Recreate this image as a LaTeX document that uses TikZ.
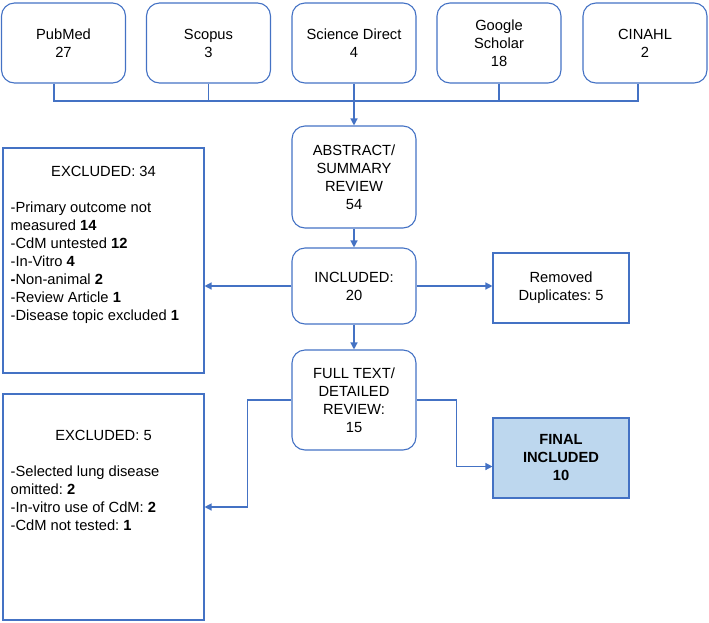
\documentclass[tikz,border=0pt]{standalone}
\usepackage{fontspec}
\setmainfont{Liberation Sans}
\usepackage{tikz}
\usetikzlibrary{arrows.meta, positioning}
\frenchspacing

\definecolor{boxblue}{HTML}{4472C4}
\definecolor{finalfill}{HTML}{BDD7EE}

\begin{document}
\begin{tikzpicture}[x=1pt, y=-1pt,
		every node/.style={font=\fontsize{14.7}{18}\selectfont, inner sep=0pt},
		roundbox/.style={draw=boxblue, line width=1.1pt, rounded corners=13pt, minimum width=124pt, align=center},
		plainbox/.style={draw=boxblue, line width=1.1pt, align=center},
		flowline/.style={draw=boxblue, line width=1.3pt},
		flowarrow/.style={flowline, -{Triangle[length=7pt, width=7pt]}}]
		
		\useasboundingbox (0,0) rectangle (709,622);
		
		% Databases searched (top row)
		\node[roundbox, minimum height=80pt] (pubmed) at (63.5,43) {PubMed\\27};
		\node[roundbox, minimum height=80pt] (scopus) at (208.5,43) {Scopus\\3};
		\node[roundbox, minimum height=80pt] (scidir) at (354,43) {Science Direct\\4};
		\node[roundbox, minimum height=80pt] (google) at (499,43) {Google\\Scholar\\18};
		\node[roundbox, minimum height=80pt] (cinahl) at (645,43) {CINAHL\\2};
		
		% Screening column
		\node[roundbox, minimum height=102pt] (abstract) at (354,177) {ABSTRACT/\\SUMMARY\\REVIEW\\54};
		\node[roundbox, minimum height=76pt] (included) at (354,286) {INCLUDED:\\20};
		\node[roundbox, minimum height=100pt] (fulltext) at (354,400) {FULL TEXT/\\DETAILED\\REVIEW:\\15};
		
		% Side boxes
		\node[plainbox, minimum width=136pt, minimum height=70pt] (removed) at (561,288) {Removed\\Duplicates: 5};
		\node[plainbox, fill=finalfill, minimum width=136pt, minimum height=80pt, font=\fontsize{14.7}{18}\selectfont\bfseries] (final) at (561,458) {FINAL\\INCLUDED\\10};
		
		% Exclusion boxes
		\node[plainbox, minimum width=201pt, minimum height=225pt] (excl1) at (103.5,260.5) {};
		\node[anchor=base] (excl1title) at ([yshift=-29pt]excl1.north) {EXCLUDED: 34};
		\node[anchor=north west, align=left] (excl1list) at ([xshift=8pt, yshift=-54.5pt]excl1.north west)
		{-Primary outcome not\\measured \textbf{14}\\-CdM untested \textbf{12}\\-In-Vitro \textbf{4}\\\textbf{-}Non-animal \textbf{2}\\-Review Article \textbf{1}\\-Disease topic excluded \textbf{1}};
		
		\node[plainbox, minimum width=201pt, minimum height=226pt] (excl2) at (103.5,507) {};
		\node[anchor=base] (excl2title) at ([yshift=-47pt]excl2.north) {EXCLUDED: 5};
		\node[anchor=north west, align=left] (excl2list) at ([xshift=8pt, yshift=-72.5pt]excl2.north west)
		{-Selected lung disease\\omitted: \textbf{2}\\-In-vitro use of CdM: \textbf{2}\\-CdM not tested: \textbf{1}};
		
		% Collecting line under the databases
		\coordinate (busL) at (54,101);
		\coordinate (busR) at (638,101);
		\draw[flowline] (pubmed.south -| busL) -- (busL) -- (busR) -- (cinahl.south -| busR);
		\draw[flowline] (scopus.south) -- (scopus.south |- busL);
		\draw[flowline] (google.south) -- (google.south |- busL);
		\draw[flowarrow] (scidir.south) -- (abstract.north);
		
		% Main flow
		\draw[flowarrow] (abstract.south) -- (included.north);
		\draw[flowarrow] (included.south) -- (fulltext.north);
		\draw[flowarrow] (included.west) -- (included.west -| excl1.east);
		\draw[flowarrow] (included.east) -- (included.east -| removed.west);
		\draw[flowarrow] (fulltext.west) -- ++(-44,0) |- (excl2.east);
		\draw[flowarrow] (fulltext.east) -- ++(40,0) |- ([yshift=-8.5pt]final.west);
		
	\end{tikzpicture}
\end{document}
